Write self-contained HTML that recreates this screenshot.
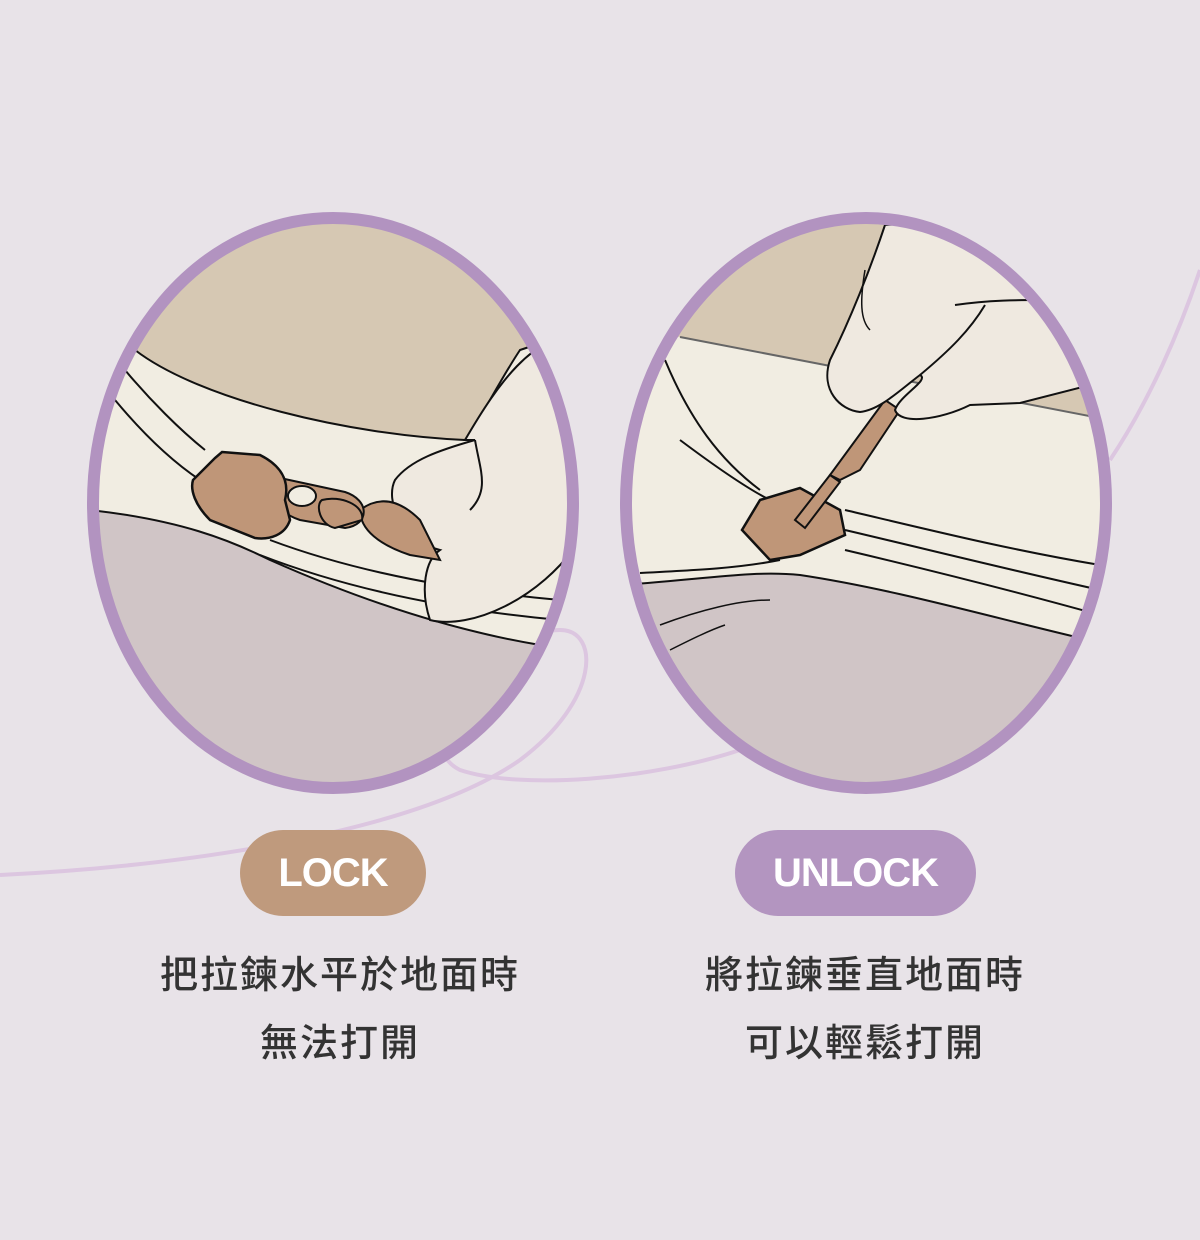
<!DOCTYPE html>
<html><head><meta charset="utf-8"><style>
html,body{margin:0;padding:0;background:#e8e3e8;}
body{width:1200px;height:1240px;position:relative;overflow:hidden;font-family:"Liberation Sans","Noto Sans CJK TC",sans-serif;}
.pill{position:absolute;height:86px;border-radius:43px;color:#fff;font-weight:bold;font-size:40px;line-height:86px;text-align:center;letter-spacing:-1px}
.cap{position:absolute;width:500px;text-align:center;font-size:38px;color:#333;line-height:68px;font-family:"Liberation Sans","Noto Sans CJK TC",sans-serif;font-weight:500;letter-spacing:2px}
</style></head><body>
<svg width="1200" height="1240" style="position:absolute;left:0;top:0">
<defs>
<clipPath id="cl"><ellipse cx="333" cy="503" rx="240" ry="285"/></clipPath>
<clipPath id="cr"><ellipse cx="866" cy="503" rx="240" ry="285"/></clipPath>
</defs>
<path d="M0 875 C200 865 420 830 520 760 C600 700 600 630 560 630 C500 630 400 740 460 770 C520 790 650 780 740 750" fill="none" stroke="#dcc6e0" stroke-width="4"/>
<path d="M1110 460 C1150 400 1180 330 1200 270" fill="none" stroke="#dcc6e0" stroke-width="4"/>
<g clip-path="url(#cl)">
<rect x="90" y="210" width="490" height="590" fill="#f1ede2"/>
<path d="M90 210 H580 V330 L520 350 C500 380 480 420 465 440 C350 435 200 400 135 350 L90 330Z" fill="#d6c8b3" stroke="#111" stroke-width="2"/>
<path d="M90 510 C180 520 230 540 270 560 C360 600 450 630 540 645 L580 650 V800 H90Z" fill="#d0c5c6" stroke="#111" stroke-width="2"/>
<path d="M115 400 C140 430 170 460 200 480" fill="none" stroke="#111" stroke-width="2"/>
<path d="M125 370 C150 400 180 430 205 450" fill="none" stroke="#111" stroke-width="2"/>
<path d="M270 540 C350 570 450 590 560 600" fill="none" stroke="#111" stroke-width="2"/>
<path d="M260 555 C350 590 450 610 560 620" fill="none" stroke="#111" stroke-width="2"/>
<path d="M465 440 C500 380 530 340 580 330 V540 C540 600 470 630 430 620 C420 590 425 560 440 550 C400 540 385 500 395 480 C410 460 440 450 475 440Z" fill="#efe9e0" stroke="#111" stroke-width="2"/>
<path d="M475 440 C480 470 490 490 470 510" fill="none" stroke="#111" stroke-width="2"/>
<path d="M360 510 C380 495 400 500 420 520 L440 560 L410 555 C380 545 360 530 360 510Z" fill="#bf9678" stroke="#111" stroke-width="2"/>
<path d="M280 478 L345 492 C370 500 370 525 345 528 L300 520 C270 510 265 485 280 478Z" fill="#bf9678" stroke="#111" stroke-width="2"/>
<ellipse cx="302" cy="496" rx="14" ry="10" fill="#f1ede2" stroke="#111" stroke-width="2"/>
<path d="M322 500 C340 495 365 505 362 520 L335 528 C320 525 315 505 322 500Z" fill="#bf9678" stroke="#111" stroke-width="2"/>
<path d="M222 452 L260 455 C280 465 290 480 285 500 L290 520 C285 535 270 540 255 538 L210 520 C195 505 190 490 193 480 L215 458Z" fill="#bf9678" stroke="#111" stroke-width="2.5"/>
</g>
<ellipse cx="333" cy="503" rx="240" ry="285" fill="none" stroke="#b293c0" stroke-width="12"/>
<g clip-path="url(#cr)">
<rect x="620" y="210" width="490" height="590" fill="#f1ede2"/>
<path d="M620 210 H1110 V420 L1020 403 L680 337 L620 330Z" fill="#d6c8b3"/>
<path d="M680 337 L1110 420" stroke="#666" stroke-width="2"/>
<path d="M620 585 C700 580 750 570 800 575 C900 590 1000 620 1110 645 V800 H620Z" fill="#d0c5c6" stroke="#111" stroke-width="2"/>
<path d="M640 573 C700 570 740 568 780 560" fill="none" stroke="#111" stroke-width="2"/>
<path d="M665 360 C690 420 720 460 760 490" fill="none" stroke="#111" stroke-width="2"/>
<path d="M680 440 C720 470 750 490 770 500" fill="none" stroke="#111" stroke-width="2"/>
<path d="M845 510 C930 530 1010 550 1100 565" fill="none" stroke="#111" stroke-width="2"/>
<path d="M845 530 C930 550 1010 570 1100 590" fill="none" stroke="#111" stroke-width="2"/>
<path d="M845 550 C930 570 1010 590 1100 615" fill="none" stroke="#111" stroke-width="2"/>
<path d="M660 625 C700 610 740 600 770 600" fill="none" stroke="#111" stroke-width="1.5"/>
<path d="M670 650 C690 640 710 630 725 625" fill="none" stroke="#111" stroke-width="1.5"/>
<path d="M885 400 L900 410 L860 470 L840 480 L830 475 Z" fill="#bf9678" stroke="#111" stroke-width="2"/>
<path d="M760 500 L800 488 L840 510 L845 535 L800 555 L770 560 L742 530Z" fill="#bf9678" stroke="#111" stroke-width="2.5"/>
<path d="M830 475 L840 482 L805 528 L795 520Z" fill="#bf9678" stroke="#111" stroke-width="2"/>
<path d="M885 225 C870 270 850 320 830 360 C820 390 840 410 860 412 C880 410 900 390 920 375 C930 380 900 395 895 410 C900 425 940 420 970 405 L1020 403 L1110 380 V210 Z" fill="#efe9e0" stroke="#111" stroke-width="2"/>
<path d="M955 305 C990 300 1020 300 1040 300" fill="none" stroke="#111" stroke-width="2"/>
<path d="M985 305 C970 330 950 350 920 375" fill="none" stroke="#111" stroke-width="2"/>
<path d="M865 270 C860 300 860 320 870 330" fill="none" stroke="#111" stroke-width="1.5"/>
</g>
<ellipse cx="866" cy="503" rx="240" ry="285" fill="none" stroke="#b293c0" stroke-width="12"/>
</svg>
<div class="pill" style="left:240px;top:830px;width:186px;background:#bf9a7d">LOCK</div>
<div class="pill" style="left:735px;top:830px;width:241px;background:#b395c0">UNLOCK</div>
<div class="cap" style="left:90px;top:942px">把拉鍊水平於地面時<br>無法打開</div>
<div class="cap" style="left:615px;top:942px">將拉鍊垂直地面時<br>可以輕鬆打開</div>
</body></html>
